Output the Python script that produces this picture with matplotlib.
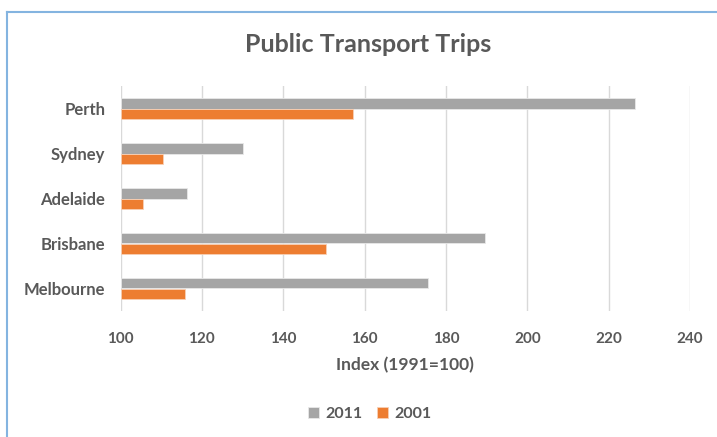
import matplotlib
matplotlib.use("Agg")
import matplotlib.pyplot as plt
from matplotlib.lines import Line2D
import numpy as np

categories = ["Perth", "Sydney", "Adelaide", "Brisbane", "Melbourne"]
values_2011 = [226.4, 130.0, 116.4, 189.5, 175.7]
values_2001 = [157.2, 110.4, 105.6, 150.5, 115.8]
xticks = [100, 120, 140, 160, 180, 200, 220, 240]

TXT = "#595959"
plt.rcParams['font.family'] = ['Lato', 'DejaVu Sans']

W, H = 717, 437
fig = plt.figure(figsize=(W / 100, H / 100), dpi=100)
ax = fig.add_axes([120.5 / W, 1 - 311 / H, (690 - 120.5) / W, (311 - 86) / H])

n = len(categories)
pos = np.arange(n)
bh = 0.235
ax.barh(pos - bh / 2, np.array(values_2011) - 100, left=100, height=bh,
        color="#A5A5A5", edgecolor="#E8E8E8", linewidth=0.6, label="2011", zorder=3)
ax.barh(pos + bh / 2, np.array(values_2001) - 100, left=100, height=bh,
        color="#ED7D31", edgecolor="#F8D0B5", linewidth=0.6, label="2001", zorder=3)

ax.set_xlim(100, 240)
ax.set_ylim(n - 0.5, -0.5)
ax.set_yticks(pos)
ax.set_yticklabels(categories, fontsize=12, fontweight="bold", color=TXT)
ax.set_xticks(xticks)
ax.set_xticklabels([str(v) for v in xticks], fontsize=11, fontweight="bold", color=TXT)
ax.tick_params(axis="both", length=0)
ax.tick_params(axis="x", pad=15)
ax.tick_params(axis="y", pad=11)
ax.grid(axis="x", color="#D9D9D9", linewidth=1, zorder=0)
for s in ax.spines.values():
    s.set_visible(False)
ax.set_xlabel("Index (1991=100)", fontsize=12.5, fontweight="bold", color=TXT, labelpad=8)

fig.text(368 / W, 1 - 45 / H, "Public Transport Trips", ha="center", va="center",
         fontsize=18, fontweight="bold", color=TXT)

leg = fig.legend(loc="center", bbox_to_anchor=(370 / W, 1 - 414 / H), ncol=2,
                 frameon=False, fontsize=11.5, handlelength=0.65, handleheight=0.65,
                 handletextpad=0.45, columnspacing=0.9)
for t in leg.get_texts():
    t.set_color(TXT)
    t.set_fontweight("bold")

bc = "#84B4E0"
fig.add_artist(Line2D([7 / W, 1], [1 - 12 / H, 1 - 12 / H], color=bc, linewidth=1.5,
                      transform=fig.transFigure))
fig.add_artist(Line2D([7 / W, 7 / W], [0, 1 - 12 / H], color=bc, linewidth=1.5,
                      transform=fig.transFigure))

fig.savefig("out.png", dpi=100)
